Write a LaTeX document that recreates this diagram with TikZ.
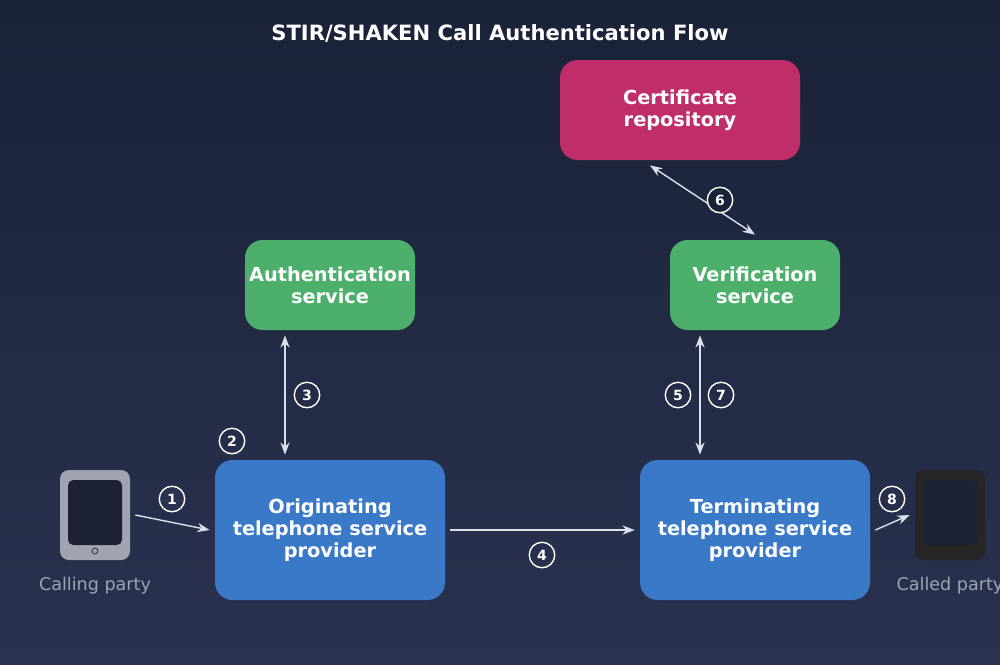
\documentclass[tikz,border=0pt]{standalone}
\usepackage{fontspec}
\setmainfont{DejaVu Sans}
\usetikzlibrary{positioning, calc, arrows.meta}
\definecolor{bgtop}{RGB}{26, 34, 56}
\definecolor{bgbot}{RGB}{42, 50, 80}
\definecolor{repomag}{RGB}{192, 46, 106}
\definecolor{svcgreen}{RGB}{76, 176, 108}
\definecolor{tspblue}{RGB}{58, 120, 200}
\definecolor{linegray}{RGB}{220, 224, 235}
\definecolor{phonegray}{RGB}{160, 164, 176}
\definecolor{screendark}{RGB}{28, 34, 52}
\tikzset{
  box/.style={rounded corners=10pt, text=white, font=\bfseries\fontsize{11}{12.5}\selectfont, align=center, inner sep=0pt},
  stepnum/.style={draw=white, circle, thick, text=white, minimum size=14.5pt, inner sep=0pt, font=\footnotesize\bfseries},
  flow/.style={-{Stealth[length=7pt]}, thick, linegray},
  both/.style={{Stealth[length=7pt]}-{Stealth[length=7pt]}, thick, linegray}
}
\begin{document}
\begin{tikzpicture}[x=0.02cm, y=-0.02cm]
                % Background
                \shade[top color=bgtop, bottom color=bgbot] (0,0) rectangle (1000,664);
                \useasboundingbox (0,0) rectangle (1000,664);
                \node[text=white, font=\bfseries\large] (title) at (500,33) {STIR/SHAKEN Call Authentication Flow};
                
                % Boxes
                \node[box, fill=repomag, minimum width=240*0.02cm, minimum height=100*0.02cm] (repo) at (680,110) {Certificate\\repository};
                \node[box, fill=svcgreen, minimum width=170*0.02cm, minimum height=90*0.02cm] (auth) at (330,285) {Authentication\\service};
                \node[box, fill=svcgreen, minimum width=170*0.02cm, minimum height=90*0.02cm] (verif) at (755,285) {Verification\\service};
                \node[box, fill=tspblue, minimum width=230*0.02cm, minimum height=140*0.02cm] (orig) at (330,530) {Originating\\telephone service\\provider};
                \node[box, fill=tspblue, minimum width=230*0.02cm, minimum height=140*0.02cm] (term) at (755,530) {Terminating\\telephone service\\provider};
                
                % Phones
                \node[fill=phonegray, rounded corners=5pt, minimum width=70*0.02cm, minimum height=90*0.02cm] (caller) at (95,515) {};
                \fill[screendark, rounded corners=3pt] (68,480) rectangle (122,545);
                \draw[screendark] (95,551) circle (3);
                \node[fill=black!85, rounded corners=5pt, minimum width=70*0.02cm, minimum height=90*0.02cm] (callee) at (950,515) {};
                \fill[screendark, rounded corners=3pt] (923,480) rectangle (977,545);
                \node[text=phonegray, below=6pt of caller] (callerlbl) {Calling party};
                \node[text=phonegray, below=6pt of callee] (calleelbl) {Called party};
                
                % Arrows
                \draw[flow] ($(caller.east)+(5,0)$) -- ($(orig.west)+(-5,0)$);
                \draw[both] ($(auth.south)+(-45,5)$) -- ($(orig.north)+(-45,-5)$);
                \draw[flow] ($(orig.east)+(5,0)$) -- ($(term.west)+(-5,0)$);
                \draw[both] ($(verif.south)+(-55,5)$) -- ($(term.north)+(-55,-5)$);
                \draw[both] ($(repo.south)+(-30,5)$) -- ($(verif.north)+(0,-5)$);
                \draw[flow] ($(term.east)+(5,0)$) -- ($(callee.west)+(-5,0)$);
                
                % Step numbers
                \node[stepnum, fill=bgbot] (s1) at (172,499) {1};
                \node[stepnum] (s2) at (232,441) {2};
                \node[stepnum] (s3) at (307,395) {3};
                \node[stepnum] (s4) at (542,555) {4};
                \node[stepnum] (s5) at (678,395) {5};
                \node[stepnum, fill=bgtop] (s6) at (720,200) {6};
                \node[stepnum] (s7) at (721,395) {7};
                \node[stepnum] (s8) at (892,499) {8};
            \end{tikzpicture}
\end{document}
